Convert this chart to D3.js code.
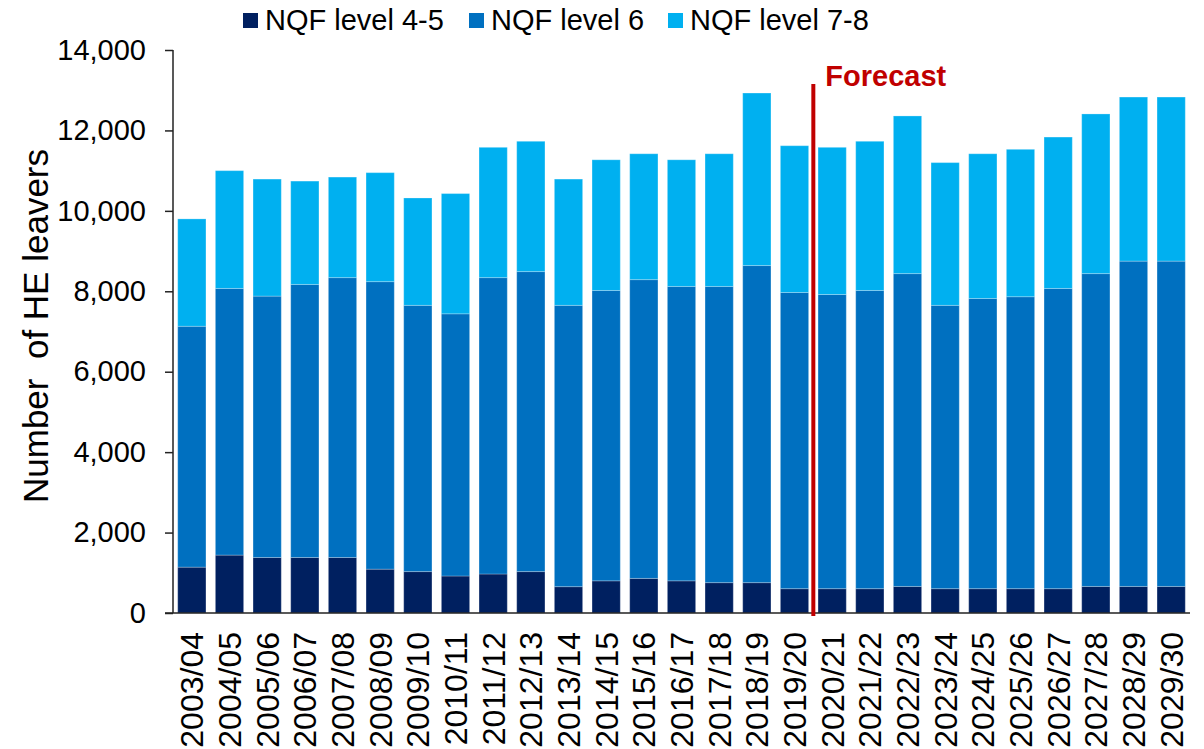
<!DOCTYPE html>
<html>
<head>
<meta charset="utf-8">
<script src="https://cdn.jsdelivr.net/npm/d3@7"></script>
<style>
  body { margin: 0; background: #fff; }
  text { font-family: "Liberation Sans", Arial, sans-serif; fill: #000; }
</style>
</head>
<body>
<div id="chart"></div>
<script>
const years = ["2003/04", "2004/05", "2005/06", "2006/07", "2007/08", "2008/09", "2009/10",
  "2010/11", "2011/12", "2012/13", "2013/14", "2014/15", "2015/16", "2016/17", "2017/18",
  "2018/19", "2019/20", "2020/21", "2021/22", "2022/23", "2023/24", "2024/25", "2025/26",
  "2026/27", "2027/28", "2028/29", "2029/30"];
const level45 = [1140, 1440, 1380, 1380, 1380, 1090, 1030, 920, 970, 1030, 655, 800, 860,
  800, 755, 755, 605, 605, 605, 660, 605, 605, 605, 605, 660, 660, 660];
const level6 = [5990, 6630, 6500, 6790, 6960, 7150, 6620, 6520, 7370, 7460, 6995, 7220, 7430,
  7320, 7365, 7885, 7365, 7315, 7415, 7780, 7045, 7215, 7260, 7465, 7780, 8090, 8090];
const level78 = [2670, 2930, 2910, 2570, 2500, 2710, 2670, 2990, 3240, 3240, 3140, 3250, 3130,
  3150, 3300, 4290, 3650, 3660, 3710, 3920, 3550, 3600, 3665, 3765, 3970, 4080, 4080];
const seriesNames = ["NQF level 4-5", "NQF level 6", "NQF level 7-8"];
const colors = ["#002060", "#0070C0", "#00B0F0"];
const yTicks = [0, 2000, 4000, 6000, 8000, 10000, 12000, 14000];
const forecastStart = "2020/21";

const width = 1204, height = 749;
const svg = d3.select("#chart").append("svg")
  .attr("width", width).attr("height", height);

const rows = years.map((yr, i) => ({ year: yr, l45: level45[i], l6: level6[i], l78: level78[i] }));
const stack = d3.stack().keys(["l45", "l6", "l78"]);
const series = stack(rows);

const x = d3.scaleBand().domain(years).range([173, 1190]).paddingInner(0.25).paddingOuter(0.125);
const y = d3.scaleLinear().domain([0, 14000]).range([613, 50]);

// bars
svg.append("g").selectAll("g")
  .data(series)
  .join("g")
  .attr("fill", (d, i) => colors[i])
  .selectAll("rect")
  .data(d => d)
  .join("rect")
  .attr("x", d => x(d.data.year))
  .attr("y", d => y(d[1]))
  .attr("width", x.bandwidth())
  .attr("height", d => y(d[0]) - y(d[1]))
  .attr("stroke", "rgba(255,255,255,0.25)")
  .attr("stroke-width", 1);

// y axis
const yAxis = svg.append("g")
  .attr("transform", "translate(173,0)")
  .call(d3.axisLeft(y).tickValues(yTicks).tickSize(8).tickPadding(19).tickFormat(d3.format(",")));
yAxis.selectAll("text").style("font-size", "29px");
yAxis.selectAll("line, path").attr("stroke", "#222").attr("stroke-width", 1.5);
yAxis.select(".domain").attr("d", "M0,50V613");

// x axis
const xAxis = svg.append("g")
  .attr("transform", "translate(0,613)")
  .call(d3.axisBottom(x).tickSize(0).tickPadding(0));
xAxis.select(".domain").attr("d", "M165,0H1190").attr("stroke", "#222").attr("stroke-width", 1.5);
xAxis.selectAll("text")
  .style("font-size", "32px")
  .attr("text-anchor", "end")
  .attr("transform", "rotate(-90)")
  .attr("x", -19)
  .attr("y", 0)
  .attr("dy", "0.36em");

// y title
svg.append("text")
  .attr("transform", "translate(48,326) rotate(-90)")
  .attr("text-anchor", "middle")
  .style("font-size", "35px")
  .style("white-space", "pre")
  .text("Number  of HE leavers");

// forecast marker
const fx = x(forecastStart) - x.step() * x.paddingInner() / 2;
svg.append("line")
  .attr("x1", fx).attr("x2", fx)
  .attr("y1", 84).attr("y2", 616)
  .attr("stroke", "#C00000").attr("stroke-width", 4);
svg.append("text")
  .attr("x", fx + 12).attr("y", 86)
  .style("font-size", "29px").style("font-weight", "bold")
  .style("fill", "#C00000")
  .text("Forecast");

// legend
const legendX = [243, 469, 668];
const legend = svg.append("g").selectAll("g")
  .data(seriesNames)
  .join("g")
  .attr("transform", (d, i) => `translate(${legendX[i]},13)`);
legend.append("rect").attr("width", 15).attr("height", 15).attr("fill", (d, i) => colors[i]);
legend.append("text").attr("x", 22).attr("y", 17).style("font-size", "29px").text(d => d);
</script>
</body>
</html>
